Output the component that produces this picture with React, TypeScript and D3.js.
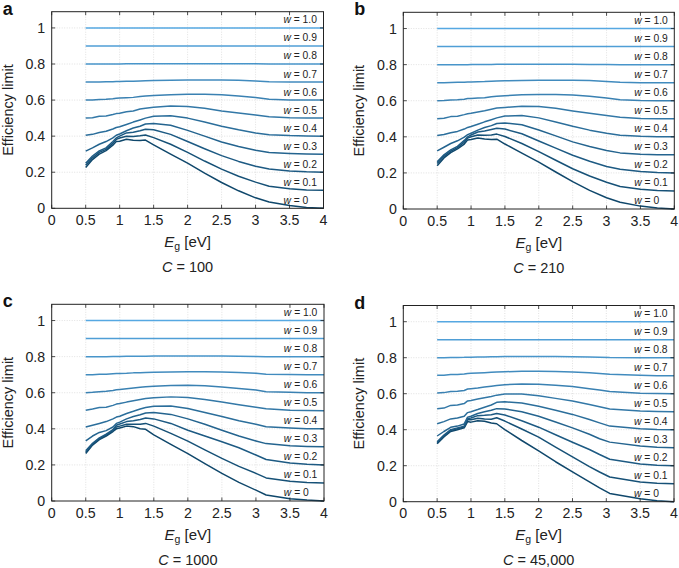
import React from "react";
import * as d3 from "d3";

// ---------- data ----------
const wLevels = [0, 0.1, 0.2, 0.3, 0.4, 0.5, 0.6, 0.7, 0.8, 0.9, 1.0];
const wLabels = ["0", "0.1", "0.2", "0.3", "0.4", "0.5", "0.6", "0.7", "0.8", "0.9", "1.0"];
const xTicks = [0, 0.5, 1, 1.5, 2, 2.5, 3, 3.5, 4];
const yTicks = [0, 0.2, 0.4, 0.6, 0.8, 1];
const panelLetters = ["a", "b", "c", "d"];
const concentrations = ["100", "210", "1000", "45,000"];

const egAB = [0.5, 0.6, 0.7, 0.8, 0.9, 0.95, 1.0, 1.1, 1.2, 1.3, 1.38, 1.5, 1.75, 2.0, 2.25, 2.5, 2.75, 3.0, 3.2, 3.5, 3.75, 4.0];
const egC = [0.5, 0.6, 0.7, 0.8, 0.9, 0.95, 1.0, 1.1, 1.2, 1.3, 1.38, 1.5, 1.75, 2.0, 2.25, 2.5, 2.75, 3.0, 3.15, 3.5, 3.75, 4.0];
const egD = [0.5, 0.6, 0.7, 0.8, 0.9, 0.95, 1.0, 1.1, 1.2, 1.3, 1.38, 1.5, 1.75, 2.0, 2.25, 2.5, 2.75, 2.9, 3.05, 3.5, 3.75, 4.0];

// Panel a, C = 100
const a_w00 = [0.226, 0.27, 0.3, 0.32, 0.35, 0.37, 0.372, 0.383, 0.377, 0.376, 0.378, 0.352, 0.3, 0.25, 0.195, 0.143, 0.097, 0.058, 0.035, 0.015, 0.005, 0.0];
const a_w01 = [0.238, 0.28, 0.31, 0.327, 0.36, 0.382, 0.39, 0.4, 0.398, 0.402, 0.406, 0.392, 0.355, 0.31, 0.262, 0.217, 0.178, 0.145, 0.122, 0.108, 0.102, 0.1];
const a_w02 = [0.25, 0.29, 0.318, 0.335, 0.37, 0.39, 0.4, 0.418, 0.422, 0.43, 0.438, 0.435, 0.41, 0.37, 0.33, 0.292, 0.26, 0.233, 0.218, 0.207, 0.202, 0.2];
const a_w03 = [0.317, 0.335, 0.355, 0.37, 0.39, 0.405, 0.412, 0.43, 0.445, 0.455, 0.467, 0.47, 0.46, 0.432, 0.4, 0.368, 0.343, 0.322, 0.31, 0.304, 0.301, 0.3];
const a_w04 = [0.405, 0.41, 0.42, 0.427, 0.44, 0.448, 0.452, 0.465, 0.478, 0.49, 0.5, 0.51, 0.513, 0.5, 0.478, 0.455, 0.435, 0.418, 0.408, 0.403, 0.401, 0.4];
const a_w05 = [0.5, 0.502, 0.51, 0.512, 0.52, 0.525, 0.527, 0.535, 0.54, 0.55, 0.555, 0.56, 0.567, 0.565, 0.555, 0.54, 0.528, 0.517, 0.507, 0.502, 0.5, 0.5];
const a_w06 = [0.6, 0.601, 0.603, 0.604, 0.607, 0.61, 0.611, 0.613, 0.615, 0.62, 0.622, 0.625, 0.63, 0.632, 0.632, 0.63, 0.623, 0.614, 0.604, 0.601, 0.6, 0.6];
const a_w07 = [0.7, 0.7, 0.7, 0.701, 0.702, 0.703, 0.703, 0.704, 0.705, 0.706, 0.707, 0.708, 0.71, 0.711, 0.712, 0.712, 0.71, 0.706, 0.701, 0.7, 0.7, 0.7];
const a_w08 = [0.8, 0.8, 0.8, 0.8, 0.8, 0.8, 0.8, 0.801, 0.801, 0.801, 0.801, 0.801, 0.802, 0.802, 0.802, 0.802, 0.801, 0.801, 0.8, 0.8, 0.8, 0.8];
const a_w09 = [0.9, 0.9, 0.9, 0.9, 0.9, 0.9, 0.9, 0.9, 0.9, 0.9, 0.9, 0.9, 0.9, 0.9, 0.9, 0.9, 0.9, 0.9, 0.9, 0.9, 0.9, 0.9];
const a_w10 = [1, 1, 1, 1, 1, 1, 1, 1, 1, 1, 1, 1, 1, 1, 1, 1, 1, 1, 1, 1, 1, 1];

// Panel b, C = 210
const b_w00 = [0.24, 0.283, 0.312, 0.333, 0.36, 0.383, 0.385, 0.393, 0.388, 0.385, 0.387, 0.36, 0.31, 0.26, 0.205, 0.152, 0.103, 0.062, 0.037, 0.016, 0.005, 0.0];
const b_w01 = [0.252, 0.292, 0.32, 0.34, 0.37, 0.393, 0.4, 0.41, 0.408, 0.41, 0.415, 0.402, 0.363, 0.318, 0.27, 0.223, 0.183, 0.148, 0.125, 0.109, 0.102, 0.1];
const b_w02 = [0.262, 0.3, 0.328, 0.347, 0.38, 0.4, 0.41, 0.427, 0.432, 0.44, 0.447, 0.443, 0.417, 0.377, 0.337, 0.298, 0.265, 0.236, 0.22, 0.208, 0.202, 0.2];
const b_w03 = [0.322, 0.342, 0.363, 0.378, 0.398, 0.412, 0.42, 0.437, 0.452, 0.462, 0.474, 0.477, 0.467, 0.438, 0.405, 0.372, 0.346, 0.324, 0.311, 0.304, 0.301, 0.3];
const b_w04 = [0.407, 0.413, 0.423, 0.43, 0.443, 0.452, 0.457, 0.47, 0.483, 0.495, 0.505, 0.515, 0.518, 0.505, 0.482, 0.458, 0.437, 0.42, 0.409, 0.403, 0.401, 0.4];
const b_w05 = [0.5, 0.503, 0.512, 0.514, 0.523, 0.528, 0.53, 0.538, 0.545, 0.553, 0.56, 0.563, 0.57, 0.568, 0.558, 0.543, 0.53, 0.518, 0.508, 0.502, 0.5, 0.5];
const b_w06 = [0.6, 0.601, 0.604, 0.605, 0.608, 0.612, 0.613, 0.615, 0.617, 0.622, 0.625, 0.628, 0.633, 0.635, 0.635, 0.632, 0.625, 0.615, 0.605, 0.601, 0.6, 0.6];
const b_w07 = [0.7, 0.7, 0.701, 0.702, 0.703, 0.704, 0.704, 0.705, 0.706, 0.708, 0.709, 0.71, 0.712, 0.713, 0.714, 0.714, 0.712, 0.707, 0.702, 0.7, 0.7, 0.7];
const b_w08 = [0.8, 0.8, 0.8, 0.8, 0.8, 0.8, 0.801, 0.801, 0.801, 0.801, 0.802, 0.802, 0.802, 0.802, 0.802, 0.802, 0.801, 0.801, 0.8, 0.8, 0.8, 0.8];
const b_w09 = [0.9, 0.9, 0.9, 0.9, 0.9, 0.9, 0.9, 0.9, 0.9, 0.9, 0.9, 0.9, 0.9, 0.9, 0.9, 0.9, 0.9, 0.9, 0.9, 0.9, 0.9, 0.9];
const b_w10 = [1, 1, 1, 1, 1, 1, 1, 1, 1, 1, 1, 1, 1, 1, 1, 1, 1, 1, 1, 1, 1, 1];

// Panel c, C = 1000
const c_w00 = [0.263, 0.31, 0.34, 0.36, 0.385, 0.4, 0.405, 0.415, 0.412, 0.4, 0.397, 0.366, 0.314, 0.263, 0.207, 0.153, 0.103, 0.06, 0.033, 0.013, 0.005, 0.0];
const c_w01 = [0.27, 0.315, 0.345, 0.365, 0.39, 0.41, 0.415, 0.425, 0.425, 0.425, 0.43, 0.415, 0.375, 0.332, 0.283, 0.236, 0.192, 0.153, 0.128, 0.11, 0.103, 0.1];
const c_w02 = [0.278, 0.32, 0.35, 0.37, 0.395, 0.42, 0.427, 0.44, 0.445, 0.452, 0.46, 0.455, 0.43, 0.392, 0.36, 0.328, 0.295, 0.255, 0.23, 0.21, 0.203, 0.2];
const c_w03 = [0.333, 0.36, 0.38, 0.39, 0.41, 0.43, 0.437, 0.455, 0.468, 0.478, 0.488, 0.49, 0.48, 0.455, 0.425, 0.392, 0.36, 0.333, 0.318, 0.306, 0.302, 0.3];
const c_w04 = [0.41, 0.42, 0.43, 0.44, 0.455, 0.465, 0.47, 0.485, 0.497, 0.51, 0.518, 0.525, 0.527, 0.512, 0.49, 0.468, 0.445, 0.425, 0.411, 0.404, 0.401, 0.4];
const c_w05 = [0.503, 0.51, 0.518, 0.52, 0.53, 0.537, 0.54, 0.548, 0.555, 0.562, 0.568, 0.572, 0.577, 0.573, 0.562, 0.548, 0.533, 0.52, 0.511, 0.503, 0.501, 0.5];
const c_w06 = [0.6, 0.602, 0.605, 0.608, 0.612, 0.616, 0.618, 0.622, 0.626, 0.63, 0.633, 0.636, 0.64, 0.641, 0.638, 0.632, 0.624, 0.615, 0.606, 0.602, 0.6, 0.6];
const c_w07 = [0.7, 0.7, 0.702, 0.703, 0.705, 0.706, 0.707, 0.708, 0.71, 0.711, 0.712, 0.713, 0.715, 0.716, 0.716, 0.715, 0.712, 0.708, 0.703, 0.701, 0.7, 0.7];
const c_w08 = [0.8, 0.8, 0.8, 0.8, 0.801, 0.801, 0.801, 0.802, 0.802, 0.802, 0.802, 0.803, 0.803, 0.803, 0.803, 0.803, 0.802, 0.801, 0.8, 0.8, 0.8, 0.8];
const c_w09 = [0.9, 0.9, 0.9, 0.9, 0.9, 0.9, 0.9, 0.9, 0.9, 0.9, 0.9, 0.9, 0.9, 0.9, 0.9, 0.9, 0.9, 0.9, 0.9, 0.9, 0.9, 0.9];
const c_w10 = [1, 1, 1, 1, 1, 1, 1, 1, 1, 1, 1, 1, 1, 1, 1, 1, 1, 1, 1, 1, 1, 1];

// Panel d, C = 45,000
const d_w00 = [0.322, 0.36, 0.39, 0.4, 0.41, 0.445, 0.442, 0.45, 0.447, 0.437, 0.433, 0.401, 0.34, 0.282, 0.222, 0.166, 0.11, 0.077, 0.046, 0.016, 0.005, 0.0];
const d_w01 = [0.328, 0.365, 0.395, 0.405, 0.415, 0.455, 0.455, 0.464, 0.46, 0.458, 0.466, 0.448, 0.404, 0.359, 0.303, 0.249, 0.195, 0.165, 0.137, 0.11, 0.103, 0.1];
const d_w02 = [0.333, 0.37, 0.4, 0.41, 0.42, 0.462, 0.465, 0.478, 0.48, 0.483, 0.49, 0.482, 0.45, 0.414, 0.372, 0.33, 0.29, 0.262, 0.236, 0.21, 0.203, 0.2];
const d_w03 = [0.365, 0.39, 0.413, 0.42, 0.432, 0.47, 0.475, 0.49, 0.5, 0.508, 0.517, 0.515, 0.5, 0.475, 0.443, 0.41, 0.375, 0.35, 0.331, 0.31, 0.303, 0.3];
const d_w04 = [0.433, 0.445, 0.46, 0.465, 0.475, 0.495, 0.5, 0.512, 0.525, 0.537, 0.552, 0.555, 0.548, 0.53, 0.508, 0.485, 0.457, 0.438, 0.42, 0.405, 0.401, 0.4];
const d_w05 = [0.516, 0.52, 0.535, 0.537, 0.545, 0.56, 0.562, 0.57, 0.578, 0.585, 0.592, 0.598, 0.598, 0.588, 0.574, 0.56, 0.54, 0.527, 0.515, 0.504, 0.501, 0.5];
const d_w06 = [0.604, 0.606, 0.612, 0.614, 0.618, 0.626, 0.628, 0.632, 0.637, 0.642, 0.645, 0.65, 0.654, 0.652, 0.647, 0.64, 0.628, 0.62, 0.612, 0.603, 0.601, 0.6];
const d_w07 = [0.702, 0.703, 0.706, 0.707, 0.709, 0.712, 0.713, 0.715, 0.717, 0.719, 0.72, 0.722, 0.725, 0.725, 0.724, 0.721, 0.716, 0.712, 0.708, 0.702, 0.7, 0.7];
const d_w08 = [0.8, 0.8, 0.801, 0.801, 0.802, 0.803, 0.803, 0.804, 0.804, 0.805, 0.805, 0.806, 0.806, 0.806, 0.806, 0.805, 0.804, 0.803, 0.801, 0.8, 0.8, 0.8];
const d_w09 = [0.9, 0.9, 0.9, 0.9, 0.9, 0.9, 0.9, 0.9, 0.9, 0.9, 0.9, 0.9, 0.9, 0.9, 0.9, 0.9, 0.9, 0.9, 0.9, 0.9, 0.9, 0.9];
const d_w10 = [1, 1, 1, 1, 1, 1, 1, 1, 1, 1, 1, 1, 1, 1, 1, 1, 1, 1, 1, 1, 1, 1];

const panelEg = [egAB, egAB, egC, egD];
const panelSeries = [
  [a_w00, a_w01, a_w02, a_w03, a_w04, a_w05, a_w06, a_w07, a_w08, a_w09, a_w10],
  [b_w00, b_w01, b_w02, b_w03, b_w04, b_w05, b_w06, b_w07, b_w08, b_w09, b_w10],
  [c_w00, c_w01, c_w02, c_w03, c_w04, c_w05, c_w06, c_w07, c_w08, c_w09, c_w10],
  [d_w00, d_w01, d_w02, d_w03, d_w04, d_w05, d_w06, d_w07, d_w08, d_w09, d_w10],
];

// ---------- layout ----------
const W = 679;
const H = 568;
const FONT = "'Liberation Sans', Arial, Helvetica, sans-serif";
const boxes = [
  { x0: 51.7, x1: 323.5, y0: 11.7, y1: 208.3 },
  { x0: 403.3, x1: 674.3, y0: 12.3, y1: 209 },
  { x0: 51.7, x1: 324, y0: 304.3, y1: 501 },
  { x0: 403.3, x1: 674, y0: 305.5, y1: 501.7 },
];
const colorScale = d3.interpolateRgb("#0f476b", "#56a8e2");

function Panel({ idx }: { idx: number }) {
  const b = boxes[idx];
  const x = d3.scaleLinear().domain([0, 4]).range([b.x0, b.x1]);
  const y = d3.scaleLinear().domain([0, 1.09]).range([b.y1, b.y0]);
  const eg = panelEg[idx];
  const series = panelSeries[idx];
  const line = d3
    .line<number>()
    .x((_, i) => x(eg[i]))
    .y((v) => y(v));
  const tick = 3.5;
  const cx = (b.x0 + b.x1) / 2;
  return (
    <g>
      {/* grid */}
      {xTicks.slice(1, -1).map((t) => (
        <line key={"gx" + t} x1={x(t)} x2={x(t)} y1={b.y0} y2={b.y1} stroke="#d4d4d4" strokeWidth={0.7} strokeDasharray="1,1.5" />
      ))}
      {yTicks.slice(1).map((t) => (
        <line key={"gy" + t} x1={b.x0} x2={b.x1} y1={y(t)} y2={y(t)} stroke="#d4d4d4" strokeWidth={0.7} strokeDasharray="1,1.5" />
      ))}
      {/* curves */}
      {series.map((s, i) => (
        <path key={"s" + i} d={line(s) || ""} fill="none" stroke={colorScale(wLevels[i])} strokeWidth={1.5} strokeLinejoin="round" />
      ))}
      {/* curve labels */}
      {wLevels.map((w, i) => (
        <text key={"l" + i} x={x(3.41)} y={y(w + 0.045)} dy="0.35em" fontSize={10.3} fontFamily={FONT} fill="#222">
          <tspan fontStyle="italic">w</tspan>
          {" = " + wLabels[i]}
        </text>
      ))}
      {/* frame */}
      <rect x={b.x0} y={b.y0} width={b.x1 - b.x0} height={b.y1 - b.y0} fill="none" stroke="#222" strokeWidth={1} />
      {/* ticks */}
      {xTicks.map((t) => (
        <g key={"tx" + t}>
          <line x1={x(t)} x2={x(t)} y1={b.y1} y2={b.y1 - tick} stroke="#222" strokeWidth={0.8} />
          <line x1={x(t)} x2={x(t)} y1={b.y0} y2={b.y0 + tick} stroke="#222" strokeWidth={0.8} />
          <text x={x(t)} y={b.y1 + 16.5} textAnchor="middle" fontSize={14.2} fontFamily={FONT} fill="#222">
            {String(t)}
          </text>
        </g>
      ))}
      {yTicks.map((t) => (
        <g key={"ty" + t}>
          <line x1={b.x0} x2={b.x0 + tick} y1={y(t)} y2={y(t)} stroke="#222" strokeWidth={0.8} />
          <line x1={b.x1} x2={b.x1 - tick} y1={y(t)} y2={y(t)} stroke="#222" strokeWidth={0.8} />
          <text x={b.x0 - 6.5} y={y(t)} dy="0.36em" textAnchor="end" fontSize={14.2} fontFamily={FONT} fill="#222">
            {String(t)}
          </text>
        </g>
      ))}
      {/* axis titles */}
      <text
        transform={`translate(${b.x0 - 39},${(b.y0 + b.y1) / 2}) rotate(-90)`}
        textAnchor="middle"
        fontSize={14.5}
        fontFamily={FONT}
        fill="#222"
      >
        Efficiency limit
      </text>
      <text x={cx} y={b.y1 + 38.5} textAnchor="middle" fontSize={15} fontFamily={FONT} fill="#222">
        <tspan fontStyle="italic">E</tspan>
        <tspan fontSize={10.5} dy={3}>g</tspan>
        <tspan dy={-3}>{" [eV]"}</tspan>
      </text>
      <text x={cx} y={b.y1 + 63.5} textAnchor="middle" fontSize={14.5} fontFamily={FONT} fill="#222">
        <tspan fontStyle="italic">C</tspan>
        {" = " + concentrations[idx]}
      </text>
      {/* panel letter */}
      <text x={b.x0 - 49} y={b.y0 + 3} fontSize={18} fontWeight="bold" fontFamily={FONT} fill="#111">
        {panelLetters[idx]}
      </text>
    </g>
  );
}

export default function App() {
  return (
    <svg width={W} height={H} style={{ position: "absolute", left: 0, top: 0, background: "#fff" }}>
      <rect width={W} height={H} fill="#fff" />
      {[0, 1, 2, 3].map((i) => (
        <Panel key={i} idx={i} />
      ))}
    </svg>
  );
}
